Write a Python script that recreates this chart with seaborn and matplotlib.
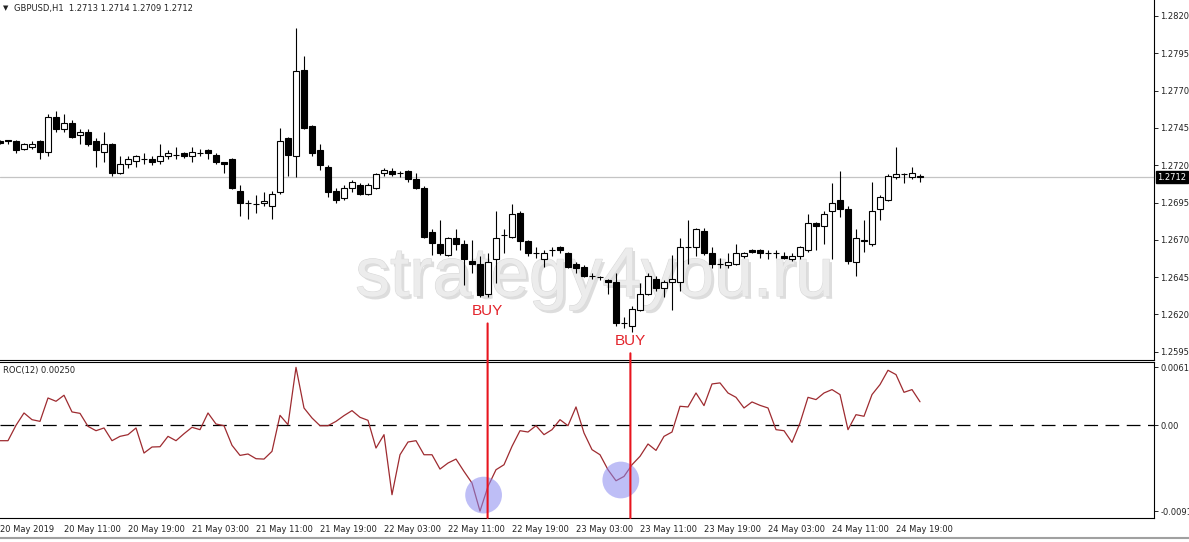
"""
GBPUSD H1 candles + ROC(12) with BUY signals (MT4 style screenshot)
"""
import numpy as np
import matplotlib
matplotlib.use("Agg")
import matplotlib.pyplot as plt
import matplotlib.patheffects as pe
from matplotlib.patches import ConnectionPatch
import seaborn as sns

# --- data (20-24 May 2019, 1 bar = 1 hour) ---
opens = [1.2736, 1.2737, 1.2736, 1.2731, 1.2732, 1.2736, 1.2729, 1.2752, 1.2744, 1.2748,
         1.2740, 1.2742, 1.2736, 1.2729, 1.2734, 1.2715, 1.2721, 1.2723, 1.2724, 1.2724,
         1.2723, 1.2726, 1.2727, 1.2728, 1.2726, 1.2728, 1.2730, 1.2727, 1.2722, 1.2724,
         1.2703, 1.2695, 1.2694, 1.2695, 1.2693, 1.2702, 1.2738, 1.2726, 1.2784, 1.2746,
         1.2730, 1.2719, 1.2703, 1.2698, 1.2705, 1.2707, 1.2701, 1.2705, 1.2715, 1.2716,
         1.2715, 1.2716, 1.2711, 1.2705, 1.2675, 1.2667, 1.2660, 1.2671, 1.2667, 1.2656,
         1.2654, 1.2634, 1.2657, 1.2673, 1.2672, 1.2688, 1.2669, 1.2661, 1.2657, 1.2663,
         1.2665, 1.2661, 1.2654, 1.2652, 1.2646, 1.2645, 1.2643, 1.2642, 1.2614, 1.2612,
         1.2623, 1.2634, 1.2644, 1.2638, 1.2642, 1.2642, 1.2665, 1.2665, 1.2676, 1.2661,
         1.2654, 1.2653, 1.2654, 1.2659, 1.2663, 1.2663, 1.2661, 1.2661, 1.2659, 1.2657,
         1.2659, 1.2663, 1.2681, 1.2679, 1.2689, 1.2697, 1.2691, 1.2655, 1.2670, 1.2667,
         1.2691, 1.2697, 1.2712, 1.2714, 1.2712, 1.2713]
highs = [1.2737, 1.2737, 1.2737, 1.2735, 1.2736, 1.2737, 1.2754, 1.2756, 1.2754, 1.2750,
         1.2744, 1.2744, 1.2738, 1.2742, 1.2735, 1.2726, 1.2726, 1.2727, 1.2728, 1.2726,
         1.2734, 1.2730, 1.2732, 1.2729, 1.2732, 1.2731, 1.2731, 1.2728, 1.2722, 1.2725,
         1.2707, 1.2697, 1.2700, 1.2702, 1.2703, 1.2745, 1.2739, 1.2812, 1.2793, 1.2747,
         1.2734, 1.2720, 1.2705, 1.2707, 1.2710, 1.2708, 1.2708, 1.2715, 1.2718, 1.2718,
         1.2716, 1.2717, 1.2715, 1.2706, 1.2677, 1.2683, 1.2672, 1.2677, 1.2670, 1.2670,
         1.2659, 1.2661, 1.2689, 1.2677, 1.2694, 1.2689, 1.2670, 1.2665, 1.2663, 1.2665,
         1.2666, 1.2662, 1.2655, 1.2653, 1.2648, 1.2646, 1.2644, 1.2648, 1.2618, 1.2626,
         1.2641, 1.2648, 1.2646, 1.2643, 1.2660, 1.2671, 1.2683, 1.2678, 1.2678, 1.2665,
         1.2658, 1.2661, 1.2667, 1.2662, 1.2664, 1.2664, 1.2663, 1.2663, 1.2662, 1.2661,
         1.2666, 1.2687, 1.2682, 1.2689, 1.2708, 1.2716, 1.2693, 1.2677, 1.2683, 1.2709,
         1.2700, 1.2714, 1.2732, 1.2715, 1.2719, 1.2714]
lows = [1.2734, 1.2734, 1.2728, 1.2730, 1.2731, 1.2724, 1.2726, 1.2742, 1.2742, 1.2738,
        1.2734, 1.2733, 1.2719, 1.2722, 1.2713, 1.2714, 1.2718, 1.2719, 1.2721, 1.2720,
        1.2721, 1.2724, 1.2724, 1.2725, 1.2722, 1.2726, 1.2724, 1.2721, 1.2715, 1.2704,
        1.2686, 1.2684, 1.2688, 1.2693, 1.2684, 1.2701, 1.2713, 1.2712, 1.2744, 1.2726,
        1.2717, 1.2699, 1.2695, 1.2697, 1.2702, 1.2700, 1.2700, 1.2704, 1.2713, 1.2713,
        1.2712, 1.2709, 1.2704, 1.2671, 1.2660, 1.2660, 1.2659, 1.2663, 1.2640, 1.2648,
        1.2632, 1.2632, 1.2641, 1.2661, 1.2671, 1.2663, 1.2659, 1.2658, 1.2652, 1.2659,
        1.2661, 1.2651, 1.2648, 1.2645, 1.2644, 1.2643, 1.2634, 1.2612, 1.2611, 1.2608,
        1.2622, 1.2633, 1.2636, 1.2632, 1.2623, 1.2636, 1.2654, 1.2659, 1.2660, 1.2651,
        1.2651, 1.2651, 1.2653, 1.2658, 1.2661, 1.2658, 1.2657, 1.2658, 1.2657, 1.2656,
        1.2657, 1.2662, 1.2663, 1.2667, 1.2657, 1.2685, 1.2654, 1.2646, 1.2662, 1.2666,
        1.2683, 1.2696, 1.2711, 1.2708, 1.2711, 1.2709]
closes = [1.2735, 1.2736, 1.2730, 1.2734, 1.2734, 1.2729, 1.2752, 1.2744, 1.2748, 1.2739,
          1.2742, 1.2734, 1.2730, 1.2734, 1.2715, 1.2721, 1.2724, 1.2726, 1.2724, 1.2722,
          1.2726, 1.2728, 1.2727, 1.2726, 1.2729, 1.2728, 1.2728, 1.2722, 1.2721, 1.2705,
          1.2695, 1.2695, 1.2694, 1.2696, 1.2701, 1.2736, 1.2727, 1.2783, 1.2745, 1.2728,
          1.2720, 1.2702, 1.2697, 1.2705, 1.2709, 1.2701, 1.2707, 1.2714, 1.2717, 1.2714,
          1.2715, 1.2711, 1.2705, 1.2672, 1.2668, 1.2661, 1.2671, 1.2667, 1.2657, 1.2654,
          1.2633, 1.2655, 1.2671, 1.2673, 1.2687, 1.2669, 1.2661, 1.2661, 1.2661, 1.2663,
          1.2663, 1.2652, 1.2651, 1.2646, 1.2646, 1.2645, 1.2642, 1.2614, 1.2614, 1.2624,
          1.2634, 1.2646, 1.2638, 1.2642, 1.2644, 1.2665, 1.2665, 1.2677, 1.2661, 1.2654,
          1.2654, 1.2655, 1.2661, 1.2661, 1.2662, 1.2661, 1.2661, 1.2661, 1.2658, 1.2659,
          1.2665, 1.2681, 1.2679, 1.2687, 1.2695, 1.2691, 1.2656, 1.2671, 1.2669, 1.2689,
          1.2699, 1.2713, 1.2714, 1.2714, 1.2715, 1.2712]

# ROC(12) indicator values, one per bar
roc_values = [-0.00163, -0.00163, 0.00000, 0.00131, 0.00060, 0.00042, 0.00290, 0.00255, 0.00319, 0.00142,
              0.00127, -0.00011, -0.00057, -0.00028, -0.00163, -0.00117, -0.00099, -0.00028, -0.00294, -0.00230,
              -0.00227, -0.00117, -0.00163, -0.00089, -0.00021, -0.00046, 0.00131, 0.00014, -0.00004, -0.00212,
              -0.00319, -0.00304, -0.00354, -0.00358, -0.00276, 0.00106, 0.00007, 0.00615, 0.00184, 0.00078,
              -0.00004, -0.00004, 0.00042, 0.00103, 0.00156, 0.00085, 0.00053, -0.00241, -0.00099, -0.00736,
              -0.00312, -0.00177, -0.00163, -0.00312, -0.00312, -0.00464, -0.00400, -0.00358, -0.00489, -0.00612,
              -0.00910, -0.00648, -0.00471, -0.00418, -0.00223, -0.00057, -0.00071, -0.00004, -0.00099, -0.00046,
              0.00060, -0.00004, 0.00195, -0.00081, -0.00258, -0.00312, -0.00471, -0.00588, -0.00542, -0.00418,
              -0.00329, -0.00198, -0.00266, -0.00117, -0.00071, 0.00202, 0.00195, 0.00343, 0.00209, 0.00439,
              0.00450, 0.00343, 0.00297, 0.00184, 0.00248, 0.00212, 0.00184, -0.00046, -0.00057, -0.00181,
              0.00025, 0.00297, 0.00273, 0.00343, 0.00379, 0.00326, -0.00046, 0.00113, 0.00096, 0.00326,
              0.00432, 0.00584, 0.00538, 0.00350, 0.00379, 0.00250]

time_labels = ["20 May 2019", "20 May 11:00", "20 May 19:00", "21 May 03:00", "21 May 11:00",
               "21 May 19:00", "22 May 03:00", "22 May 11:00", "22 May 19:00", "23 May 03:00",
               "23 May 11:00", "23 May 19:00", "24 May 03:00", "24 May 11:00", "24 May 19:00"]
price_ticks = [1.2595, 1.2620, 1.2645, 1.2670, 1.2695, 1.2720, 1.2745, 1.2770, 1.2795, 1.2820]

# BUY signals (bar position, price of the label, price where the red line starts)
buy_bars = [60.95, 78.8]
buy_label_prices = [1.2622, 1.2602]
buy_line_tops = [1.2614, 1.2594]
# highlighted ROC troughs
circle_bars = [60.45, 77.6]
circle_roc = [-0.0074, -0.0058]

W, H = 1189, 542
FONT = 6.0


def fx(px):
    return px / W


def fy(py):
    return 1 - py / H


sns.set_style("white")
plt.rcParams['font.family'] = ['DejaVu Sans']

fig = plt.figure(figsize=(W / 100, H / 100), dpi=100)
ax1 = fig.add_axes([0, fy(359.5), fx(1154), 359.5 / H])
ax2 = fig.add_axes([0, fy(518), fx(1154), (518 - 361.5) / H])

bars = np.arange(len(opens))
o = np.array(opens)
c = np.array(closes)

# ---------------- price panel ----------------
ax1.vlines(bars, lows, highs, color='black', linewidth=0.8, zorder=2)
up = c > o
down = c < o
flat = c == o
ax1.bar(bars[up], (c - o)[up], bottom=o[up], width=0.64, facecolor='white',
        edgecolor='black', linewidth=0.8, zorder=3)
ax1.bar(bars[down], (o - c)[down], bottom=c[down], width=0.64, facecolor='black',
        edgecolor='black', linewidth=0.8, zorder=3)
ax1.hlines(c[flat], bars[flat] - 0.32, bars[flat] + 0.32, color='black', linewidth=0.8, zorder=3)

# bid line
ax1.axhline(closes[-1], color='#c4c4c4', linewidth=0.9, zorder=1)

ax1.set_xlim(0, 1154 / 8)
ax1.set_ylim(1.28307 - 359.5 * 0.000067, 1.28307)
ax1.yaxis.tick_right()
ax1.set_yticks(price_ticks)
ax1.set_yticklabels([f"{t:.4f}" for t in price_ticks])
ax1.tick_params(axis='y', direction='out', length=3, width=0.7, labelsize=FONT, pad=1.5,
                colors='#222222')
ax1.set_xticks([])
for side in ['left', 'top']:
    ax1.spines[side].set_visible(False)
for side in ['right', 'bottom']:
    ax1.spines[side].set_linewidth(0.8)
    ax1.spines[side].set_color('black')

# current price box
ax1.annotate(f"{closes[-1]:.4f}", xy=(1, closes[-1]), xycoords=('axes fraction', 'data'),
             xytext=(2.5, 0), textcoords='offset points', va='center', ha='left',
             color='white', fontsize=FONT,
             bbox=dict(boxstyle='square,pad=0.18', fc='black', ec='black'))

# watermark
ax1.text(595 / 1154, 1 - 296 / 359.5, "strategy4you.ru", transform=ax1.transAxes,
         ha='center', va='baseline', fontsize=50, family='Liberation Sans',
         color='#ececec', zorder=1,
         path_effects=[pe.withSimplePatchShadow(offset=(2, -2), shadow_rgbFace='#b4b4b4', alpha=0.45),
                       pe.withStroke(linewidth=0.8, foreground='#dadada')])

# BUY labels
for bx, bp in zip(buy_bars, buy_label_prices):
    ax1.text(bx, bp, "BUY", color='#e3232b', fontsize=11, family='Liberation Sans',
             ha='center', va='center', zorder=5)

# ---------------- ROC panel ----------------
sns.lineplot(x=bars, y=roc_values, ax=ax2, color='#9e2b30', linewidth=0.9, zorder=3)
ax2.axhline(0, color='black', linewidth=0.9, linestyle=(0, (11, 6)), zorder=2)
ax2.scatter(circle_bars, circle_roc, s=700, color='#8a8af0', alpha=0.55,
            edgecolors='none', zorder=4)

roc_ylim = (-0.00983, 0.00677)
ax2.set_xlim(0, 1154 / 8)
ax2.set_ylim(*roc_ylim)
ax2.yaxis.tick_right()
roc_max, roc_min = max(roc_values), min(roc_values)
ax2.set_yticks([roc_max, 0, roc_min])
ax2.set_yticklabels([f"{roc_max:.5f}", "0.00", f"{roc_min:.4f}"])
ax2.tick_params(axis='y', direction='out', length=3, width=0.7, labelsize=FONT, pad=1.5,
                colors='#222222')
ax2.set_xticks(np.arange(0, 8 * len(time_labels), 8))
ax2.set_xticklabels(time_labels)
ax2.tick_params(axis='x', direction='out', length=3, width=0.7, labelsize=FONT, pad=2,
                colors='#222222')
for lab in ax2.get_xticklabels():
    lab.set_horizontalalignment('left')
ax2.spines['left'].set_visible(False)
for side in ['right', 'bottom', 'top']:
    ax2.spines[side].set_linewidth(0.8)
    ax2.spines[side].set_color('black')
ax2.set_xlabel('')
ax2.set_ylabel('')

ax2.text(3 / 1154, 1 - (370 - 361.5) / (518 - 361.5), "ROC(12) 0.00250", transform=ax2.transAxes,
         ha='left', va='center', fontsize=FONT, color='#222222')

# red signal lines through both panels
for bx, top in zip(buy_bars, buy_line_tops):
    con = ConnectionPatch(xyA=(bx, top), coordsA=ax1.transData,
                          xyB=(bx, roc_ylim[0]), coordsB=ax2.transData,
                          color='#e8141e', linewidth=1.5, zorder=6)
    fig.add_artist(con)

# header
fig.text(fx(3), fy(8), "\u25BC", fontsize=5, va='center', ha='left', color='#222222')
fig.text(fx(14), fy(8), "GBPUSD,H1  1.2713 1.2714 1.2709 1.2712", fontsize=FONT,
         va='center', ha='left', color='#222222')

# window frame line at the bottom
fig.add_artist(plt.Line2D([0, 1], [fy(538), fy(538)], color='#a0a0a0', linewidth=1.5))

fig.savefig("out.png", dpi=100)
plt.close(fig)
